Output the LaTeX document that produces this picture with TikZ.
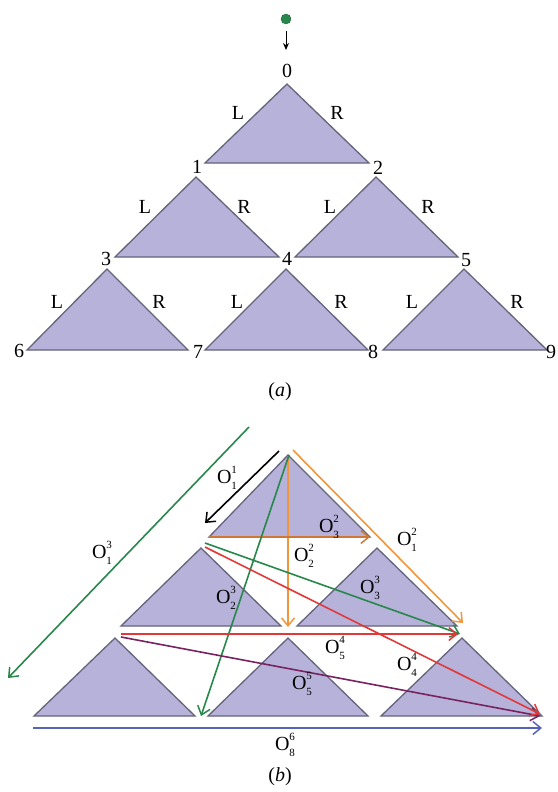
\documentclass[tikz,border=0pt]{standalone}
\usepackage{fontspec}
\setmainfont{Liberation Serif}
\usetikzlibrary{arrows.meta}
\definecolor{trifill}{RGB}{182,178,218}
\definecolor{triedge}{RGB}{100,100,122}
\definecolor{pgreen}{RGB}{40,135,75}
\definecolor{porange}{RGB}{242,150,60}
\definecolor{pbrown}{RGB}{205,120,55}
\definecolor{pred}{RGB}{228,55,55}
\definecolor{pblue}{RGB}{85,100,185}
\definecolor{pmaroon}{RGB}{120,35,95}
\newcommand\obl[2]{O\rlap{\raisebox{0.5em}{\fontsize{11}{11}\selectfont #1}}\raisebox{-0.3em}{\fontsize{11}{11}\selectfont #2}}
\tikzset{
  tri/.style={fill=trifill,draw=triedge,line width=1.3pt,line join=miter},
  lbl/.style={inner sep=0pt,font=\fontsize{20}{22}\selectfont},
  arr/.style={line width=1.6pt,-{Straight Barb[length=8pt,width=13pt,line width=1.5pt]}},
}
\begin{document}
\begin{tikzpicture}[x=1pt,y=-1pt]
\useasboundingbox (0,0) rectangle (557,792);
% ---------- (a) ----------
\node[circle,fill=pgreen,draw=pgreen!70!black,inner sep=0pt,minimum size=10pt] (dot) at (286,19) {};
\coordinate (ta) at (286,31);
\coordinate (tb) at (286,50);
\draw[line width=1pt,-{Stealth[length=7pt,width=6pt]}] (ta) -- (tb);
\foreach \n/\ax/\ay/\lx/\rx/\by in {A0/287/84/205/369/163, A1/196/177/115/279/257, A2/376/177/295/458/257, A3/107/269/27/188/350, A4/286/269/205/368/350, A5/464/269/383/547/350}{
  \coordinate (\n t) at (\ax,\ay);
  \coordinate (\n l) at (\lx,\by);
  \coordinate (\n r) at (\rx,\by);
  \path[tri] (\n t) -- (\n l) -- (\n r) -- cycle;
}
\node[lbl] (n0) at (287,71) {0};
\node[lbl] (n1) at (197,167) {1};
\node[lbl] (n2) at (378,168) {2};
\node[lbl] (n3) at (106,259) {3};
\node[lbl] (n4) at (287,259) {4};
\node[lbl] (n5) at (466,260) {5};
\node[lbl] (n6) at (19,351) {6};
\node[lbl] (n7) at (198,352) {7};
\node[lbl] (n8) at (373,352) {8};
\node[lbl] (n9) at (551,352) {9};
\node[lbl] (l0) at (238,113) {L};
\node[lbl] (r0) at (337,113) {R};
\node[lbl] (l1) at (145,207) {L};
\node[lbl] (r1) at (244,207) {R};
\node[lbl] (l2) at (330,207) {L};
\node[lbl] (r2) at (428,207) {R};
\node[lbl] (l3) at (57,302) {L};
\node[lbl] (r3) at (159,302) {R};
\node[lbl] (l4) at (237,302) {L};
\node[lbl] (r4) at (341,302) {R};
\node[lbl] (l5) at (412,302) {L};
\node[lbl] (r5) at (517,302) {R};
\node[lbl] (capa) at (280,392) {(\textit{a})};
% ---------- (b) ----------
\foreach \n/\ax/\ay/\lx/\rx/\by in {B0/288/455/209/370/537, B1/201/548/121/281/626, B2/377/548/297/457/626, B3/115/638/34/195/716, B4/288/638/208/368/716, B5/462/638/381/542/716}{
  \coordinate (\n t) at (\ax,\ay);
  \coordinate (\n l) at (\lx,\by);
  \coordinate (\n r) at (\rx,\by);
  \path[tri] (\n t) -- (\n l) -- (\n r) -- cycle;
}
\coordinate (g1s) at (249,427);
\coordinate (g1e) at (8,678);
\coordinate (k1s) at (279,451);
\coordinate (k1e) at (205,523);
\coordinate (o1s) at (293,450);
\coordinate (o1e) at (463,623);
\coordinate (o2s) at (288,456);
\coordinate (o2e) at (288,627);
\coordinate (o3s) at (209,537);
\coordinate (o3e) at (370,537);
\coordinate (g2s) at (289,455);
\coordinate (g2e) at (201,716);
\coordinate (g3s) at (205,543);
\coordinate (g3e) at (460,634);
\coordinate (r4s) at (205,547);
\coordinate (r4e) at (540,714);
\coordinate (r5s) at (121,634);
\coordinate (r5e) at (458,634);
\coordinate (m1s) at (121,637);
\coordinate (m1e) at (540,716);
\coordinate (b1s) at (33,728);
\coordinate (b1e) at (542,728);
\draw[arr,pgreen] (g1s) -- (g1e);
\draw[arr,black] (k1s) -- (k1e);
\draw[arr,porange] (o1s) -- (o1e);
\draw[arr,porange] (o2s) -- (o2e);
\draw[arr,pbrown,line width=1.8pt] (o3s) -- (o3e);
\draw[arr,pgreen] (g2s) -- (g2e);
\draw[arr,pgreen] (g3s) -- (g3e);
\draw[arr,pred] (r5s) -- (r5e);
\draw[arr,pmaroon] (m1s) -- (m1e);
\draw[arr,pred] (r4s) -- (r4e);
\draw[arr,pblue] (b1s) -- (b1e);
\node[lbl] (L11) at (227,478) {\obl{1}{1}};
\node[lbl] (L23) at (329,527) {\obl{2}{3}};
\node[lbl] (L21) at (407,540) {\obl{2}{1}};
\node[lbl] (L22) at (304,556) {\obl{2}{2}};
\node[lbl] (L33) at (370,588) {\obl{3}{3}};
\node[lbl] (L32) at (226,598) {\obl{3}{2}};
\node[lbl] (L31) at (102,553) {\obl{3}{1}};
\node[lbl] (L45) at (335,648) {\obl{4}{5}};
\node[lbl] (L44) at (407,665) {\obl{4}{4}};
\node[lbl] (L55) at (302,684) {\obl{5}{5}};
\node[lbl] (L68) at (285,745) {\obl{6}{8}};
\node[lbl] (capb) at (280,777) {(\textit{b})};
\end{tikzpicture}
\end{document}
